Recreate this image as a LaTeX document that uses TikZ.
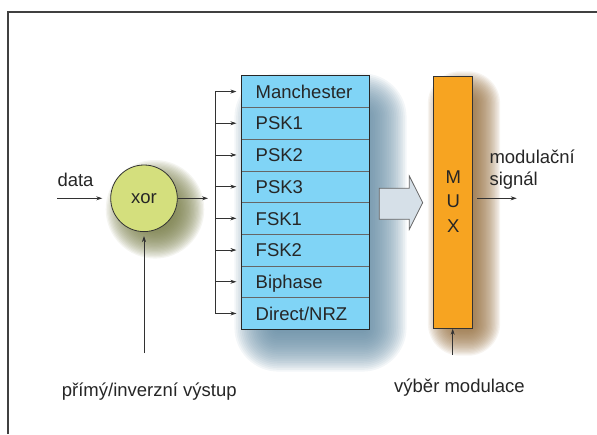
\documentclass[tikz,border=0pt]{standalone}
\usepackage{fontspec}
\setmainfont{Liberation Sans}
\usetikzlibrary{arrows.meta,backgrounds,calc}
\definecolor{rowblue}{RGB}{128,212,246}
\definecolor{xorgreen}{RGB}{212,223,125}
\definecolor{muxorange}{RGB}{247,164,33}
\definecolor{arrowfill}{RGB}{214,224,232}
\definecolor{linegray}{RGB}{50,50,50}
\definecolor{shblue}{RGB}{95,135,160}
\definecolor{sholive}{RGB}{115,120,65}
\definecolor{shbrown}{RGB}{145,105,55}
\tikzset{
  lbl/.style={font=\fontsize{18.5}{22}\selectfont, text=black!85, inner sep=0pt},
  rowbox/.style={draw=black!60, line width=0.6pt, fill=rowblue, minimum width=127.6pt,
     minimum height=31.7pt, inner ysep=0pt, inner xsep=14pt, text width=99.6pt, align=left,
     text height=13.3pt, text depth=0pt, font=\fontsize{18.5}{22}\selectfont, text=black!85},
  conn/.style={draw=linegray, line width=0.7pt},
  arr/.style={conn, -{Stealth[length=6pt,width=4pt]}},
  frameline/.style={draw=black!75, line width=1.2pt},
  shlayer/.style={fill=#1, fill opacity=0.075, draw=none},
}
\begin{document}
\begin{tikzpicture}[x=1pt,y=-1pt]
\useasboundingbox (0,0) rectangle (597,434);
% frame
\draw[frameline] (8,434) |- (597,12);

% rows
\foreach \t [count=\i] in {Manchester,PSK1,PSK2,PSK3,FSK1,FSK2,Biphase,Direct/NRZ}{
  \node[rowbox] (r\i) at (305.5,{75.7+31.7*(\i-0.5)}) {\t};
}
\draw[black!85, line width=0.9pt] (r1.north west) rectangle (r8.south east);

% MUX
\node[draw=black!80, line width=0.8pt, fill=muxorange, minimum width=39.4pt, minimum height=251.6pt, inner sep=0pt] (mux) at (453,202.5) {};
\node[lbl, anchor=center] (mM) at (453.3,176.7) {M};
\node[lbl, anchor=center] (mU) at (453.3,201.2) {U};
\node[lbl, anchor=center] (mX) at (453.3,225.7) {X};

% xor
\node[circle, draw=black!80, line width=0.8pt, fill=xorgreen, minimum size=66.6pt, inner sep=0pt,
      font=\fontsize{18.5}{22}\selectfont, text=black!85] (xor) at (144,198.3) {xor};

% shadows (manual blur)
\begin{scope}[on background layer]
  \foreach \k in {0,...,25}{
    \pgfmathsetmacro{\e}{22*(1-2*\k/25)}
    \pgfmathsetmacro{\rc}{max(22+\e,0.1)}
    \fill[shlayer=shblue, rounded corners=\rc pt]
      ($(r1.north west)+(15-\e,20-\e)$) rectangle ($(r8.south east)+(15+\e,20+\e)$);
    \pgfmathsetmacro{\f}{16*(1-2*\k/25)}
    \pgfmathsetmacro{\rd}{max(16+\f,0.1)}
    \fill[shlayer=shbrown, rounded corners=\rd pt]
      ($(mux.north west)+(11-\f,11-\f)$) rectangle ($(mux.south east)+(11+\f,11+\f)$);
    \pgfmathsetmacro{\cr}{max(33.3+\f,0.5)}
    \fill[shlayer=sholive] ($(xor.center)+(11,11)$) circle (\cr pt);
  }
\end{scope}

% block arrow
\draw[fill=arrowfill, draw=black!60, line width=0.8pt]
  (379.3,188.3) -- (409.3,188.3) -- (409.3,176) -- (422.7,202.7) -- (409.3,229.3)
  -- (409.3,219.3) -- (379.3,219.3) -- cycle;

% data input
\coordinate (din) at (57.3,198.3);
\draw[arr, shorten >=8pt] (din) -- (xor.west);
\node[lbl, anchor=base west] (data) at (57.3,186.7) {data};

% xor output
\coordinate (xout) at (208,198.3);
\draw[arr] (xor.east) -- (xout);

% bus
\coordinate (bustop) at (215.3,{75.7+31.7*0.5});
\coordinate (busbot) at (215.3,{75.7+31.7*7.5});
\draw[conn] (bustop) -- (busbot);
\foreach \i in {1,...,8}{
  \draw[arr, shorten >=5pt] (bustop |- r\i.west) -- (r\i.west);
}

% inverse input
\coordinate (invin) at (144,353);
\draw[arr, shorten >=4pt] (invin) -- (xor.south);
\node[lbl, anchor=base west] (invlbl) at (61.7,396.5) {přímý/inverzní výstup};

% mux select
\coordinate (selin) at (452.7,355);
\draw[arr] (selin) -- (mux.south -| selin);
\node[lbl, anchor=base west] (sellbl) at (394,392.5) {výběr modulace};

% mux output
\coordinate (mout) at (516.7,198.3);
\coordinate (moutstart) at (477.3,198.3);
\draw[arr] (moutstart) -- (mout);
\node[lbl, anchor=base west] (mod1) at (489.3,163.3) {modulační};
\node[lbl, anchor=base west] (mod2) at (489.3,185) {signál};
\end{tikzpicture}
\end{document}
